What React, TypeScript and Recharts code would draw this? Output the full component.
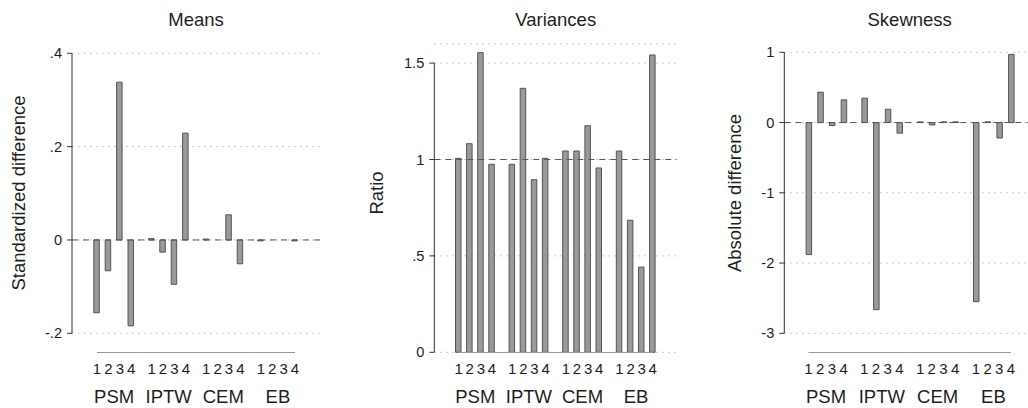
import React from 'react';
import { BarChart, Bar, XAxis, YAxis, CartesianGrid, ReferenceLine } from 'recharts';

const methods = ['PSM', 'IPTW', 'CEM', 'EB'];
const covariates = ['1', '2', '3', '4'];

// one row per method, one column per covariate
const meanDiff = [
  [-0.156, -0.066, 0.338, -0.184],
  [0.003, -0.026, -0.095, 0.229],
  [0.002, 0, 0.054, -0.051],
  [-0.002, 0, 0, -0.002],
];
const varRatio = [
  [1.006, 1.082, 1.554, 0.975],
  [0.975, 1.369, 0.895, 1.006],
  [1.044, 1.044, 1.175, 0.956],
  [1.044, 0.685, 0.442, 1.542],
];
const skewDiff = [
  [-1.88, 0.432, -0.043, 0.323],
  [0.347, -2.664, 0.19, -0.151],
  [0.01, -0.034, 0.01, 0.01],
  [-2.55, 0.01, -0.22, 0.97],
];

const meanTicks = [-0.2, 0, 0.2, 0.4];
const varTicks = [0, 0.5, 1, 1.5];
const skewTicks = [-3, -2, -1, 0, 1];

const FONT = '"Liberation Sans", Arial, Helvetica, sans-serif';
const INK = '#1e1e1e';
const H = 408;
const BAR = 5.5;
const AXIS_Y = 352.5;
const DIGIT_Y = 368.5;
const GROUP_Y = 396;
const YTITLE_Y = 193;

// stata style numbers: .4, -.2
const stataNum = (v: number) => String(v).replace('0.', '.');

const toRows = (vals: number[][]) =>
  methods.map((m, i) => {
    const row: Record<string, string | number> = { method: m };
    covariates.forEach((c, j) => {
      row['c' + c] = vals[i][j];
    });
    return row;
  });

const panels = [
  {
    title: 'Means', ytitle: 'Standardized difference', values: meanDiff, ticks: meanTicks,
    domain: [-0.2, 0.4], refY: 0,
    left: 0, width: 340, axisX: 72, plotW: 248, top: 53.3, bottom: 333.3, pad: 14.8, pitch: 11.4, ytitleX: 18.8,
  },
  {
    title: 'Variances', ytitle: 'Ratio', values: varRatio, ticks: varTicks,
    domain: [0, 1.6], refY: 1,
    left: 340, width: 340, axisX: 434.3, plotW: 242.8, top: 43.8, bottom: 352.3, pad: 14.2, pitch: 11.1, ytitleX: 376.7,
  },
  {
    title: 'Skewness', ytitle: 'Absolute difference', values: skewDiff, ticks: skewTicks,
    domain: [-3, 1], refY: 0,
    left: 680, width: 360, axisX: 784.3, plotW: 250.8, top: 52.3, bottom: 333.3, pad: 13.8, pitch: 11.7, ytitleX: 734.3,
  },
];

type PanelCfg = (typeof panels)[number];

function Panel({ p }: { p: PanelCfg }) {
  const rows = toRows(p.values);
  const plotLeft = p.axisX - p.left;
  const band = (p.plotW - 2 * p.pad) / methods.length;
  const plotH = p.bottom - p.top;
  const [d0, d1] = p.domain;
  const tMin = p.ticks[0];
  const tMax = p.ticks[p.ticks.length - 1];
  // y axis line only spans the tick range
  const hiddenTop = (plotH * (d1 - tMax)) / (d1 - d0);
  const axisLen = (plotH * (tMax - tMin)) / (d1 - d0);

  const groupTick = (props: any) => {
    const { x, payload, index } = props;
    const edge = 1.5 * p.pitch;
    const x1 = index === 0 ? x - edge : x - band / 2;
    const x2 = index === methods.length - 1 ? x + edge : x + band / 2;
    return (
      <g>
        <line x1={x1} x2={x2} y1={AXIS_Y} y2={AXIS_Y} stroke="#9a9a9a" strokeWidth={1} />
        {covariates.map((c, i) => (
          <text key={c} x={x + (i - 1.5) * p.pitch} y={DIGIT_Y} textAnchor="middle"
            dominantBaseline="central" fontSize={15} fill={INK}>
            {c}
          </text>
        ))}
        <text x={x} y={GROUP_Y} textAnchor="middle" dominantBaseline="central" fontSize={18.5} fill={INK}>
          {payload.value}
        </text>
      </g>
    );
  };

  const yTitle = () => {
    const x = p.ytitleX - p.left;
    return (
      <text x={x} y={YTITLE_Y} transform={`rotate(-90 ${x} ${YTITLE_Y})`} textAnchor="middle"
        dominantBaseline="central" fontSize={18.5} fill={INK}>
        {p.ytitle}
      </text>
    );
  };

  return (
    <div style={{ position: 'absolute', left: p.left, top: 0, width: p.width, height: H }}>
      <div style={{
        position: 'absolute', left: plotLeft + p.plotW / 2 - 100, width: 200, top: 10,
        textAlign: 'center', fontSize: 18.5, lineHeight: '20px', color: INK,
      }}>
        {p.title}
      </div>
      <BarChart
        width={p.width}
        height={H}
        data={rows}
        barSize={BAR}
        barGap={p.pitch - BAR}
        margin={{ top: p.top, bottom: H - p.bottom - 20, left: plotLeft - 60, right: p.width - plotLeft - p.plotW }}
      >
        <CartesianGrid vertical={false} stroke="#b8b8b8" strokeDasharray="1.5 4.5" />
        <XAxis dataKey="method" height={20} padding={{ left: p.pad, right: p.pad }} axisLine={false}
          tickLine={false} tickSize={0} tickMargin={0} interval={0} tick={groupTick} />
        <YAxis
          width={60}
          domain={p.domain}
          ticks={p.ticks}
          interval={0}
          tickFormatter={stataNum}
          tickSize={5}
          tickMargin={5}
          axisLine={{ stroke: '#333', strokeDasharray: hiddenTop > 0 ? `0 ${hiddenTop} ${axisLen} 2000` : undefined }}
          tickLine={{ stroke: '#333' }}
          tick={{ fontSize: 14.6, fill: INK }}
          label={yTitle}
        />
        <ReferenceLine y={p.refY} stroke="#555" strokeDasharray="6 5" />
        {covariates.map((c) => (
          <Bar key={c} dataKey={'c' + c} fill="#999999" stroke="#555" strokeWidth={1} isAnimationActive={false} />
        ))}
      </BarChart>
    </div>
  );
}

export default function App() {
  return (
    <div style={{
      position: 'absolute', left: 0, top: 0, width: 1028, height: H, overflow: 'hidden',
      background: '#fff', fontFamily: FONT,
    }}>
      {panels.map((p) => (
        <Panel key={p.title} p={p} />
      ))}
    </div>
  );
}
